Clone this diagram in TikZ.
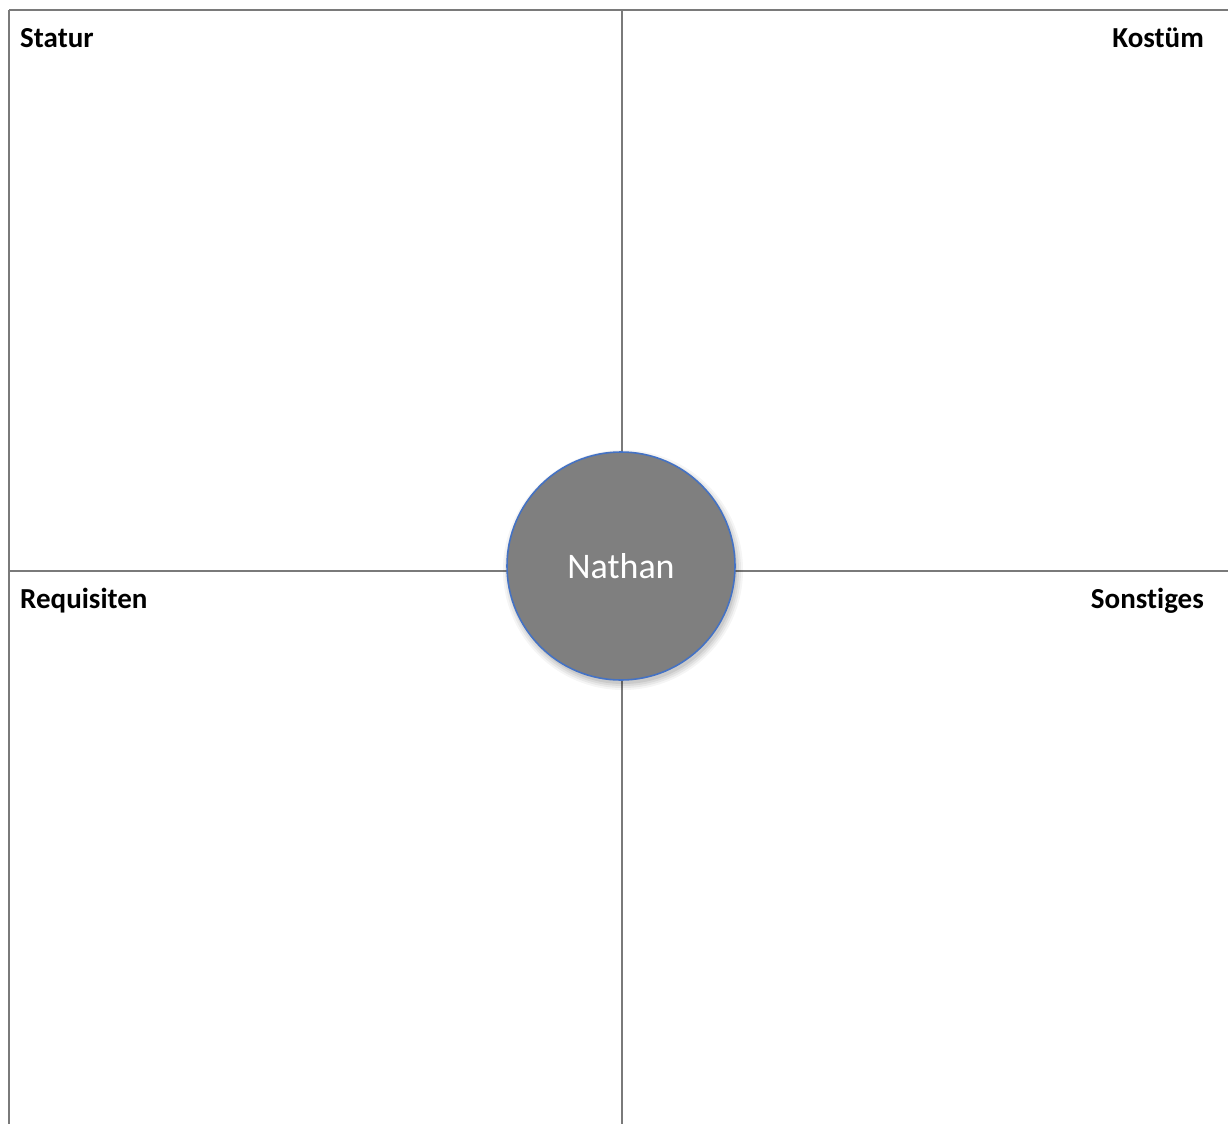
\documentclass[tikz,border=0pt]{standalone}
\usepackage{fontspec}
\setmainfont[Ligatures=NoCommon]{Carlito}
\definecolor{gridgray}{HTML}{7A7A7A}
\definecolor{circfill}{HTML}{7F7F7F}
\definecolor{circedge}{HTML}{4472C4}
\tikzset{
  gridline/.style={draw=gridgray, line width=1.8pt},
  quadlabel/.style={font=\fontsize{29}{34}\selectfont\bfseries, inner sep=0pt, text=black},
  center/.style={circle, fill=circfill, draw=circedge, line width=1.6pt, minimum size=228pt, inner sep=0pt,
     text=white, font=\fontsize{36}{42}\selectfont}
}
\begin{document}
\begin{tikzpicture}[x=1pt,y=-1pt]
\useasboundingbox (0,0) rectangle (1228,1124);
\fill[white] (0,0) rectangle (1228,1124);
% frame endpoints
\coordinate (tl) at (9,10);
\coordinate (tr) at (1228,10);
\coordinate (bl) at (9,1124);
\coordinate (tm) at (622,10);
\coordinate (bm) at (622,1124);
\coordinate (ml) at (9,571);
\coordinate (mr) at (1228,571);
\draw[gridline] (tl) -- (tr);
\draw[gridline] (tl) -- (bl);
\draw[gridline] (tm) -- (bm);
\draw[gridline] (ml) -- (mr);
% labels
\node[quadlabel, anchor=base west] (statur) at (20,48) {Statur};
\node[quadlabel, anchor=base east] (kostuem) at (1204,48) {Kostüm};
\node[quadlabel, anchor=base west] (requisiten) at (20,608) {Requisiten};
\node[quadlabel, anchor=base east] (sonstiges) at (1204,608) {Sonstiges};
% soft shadow
\foreach \r/\o in {120/0.04,118/0.05,116/0.06,114/0.07}
  \fill[black, opacity=\o] (623,570) circle (\r pt);
% centre circle
\node[center] (nathan) at (621,566) {};
\node[text=white, font=\fontsize{36}{42}\selectfont, inner sep=0pt, anchor=base] (nathanlabel) at (621,578) {Nathan};
\end{tikzpicture}
\end{document}
